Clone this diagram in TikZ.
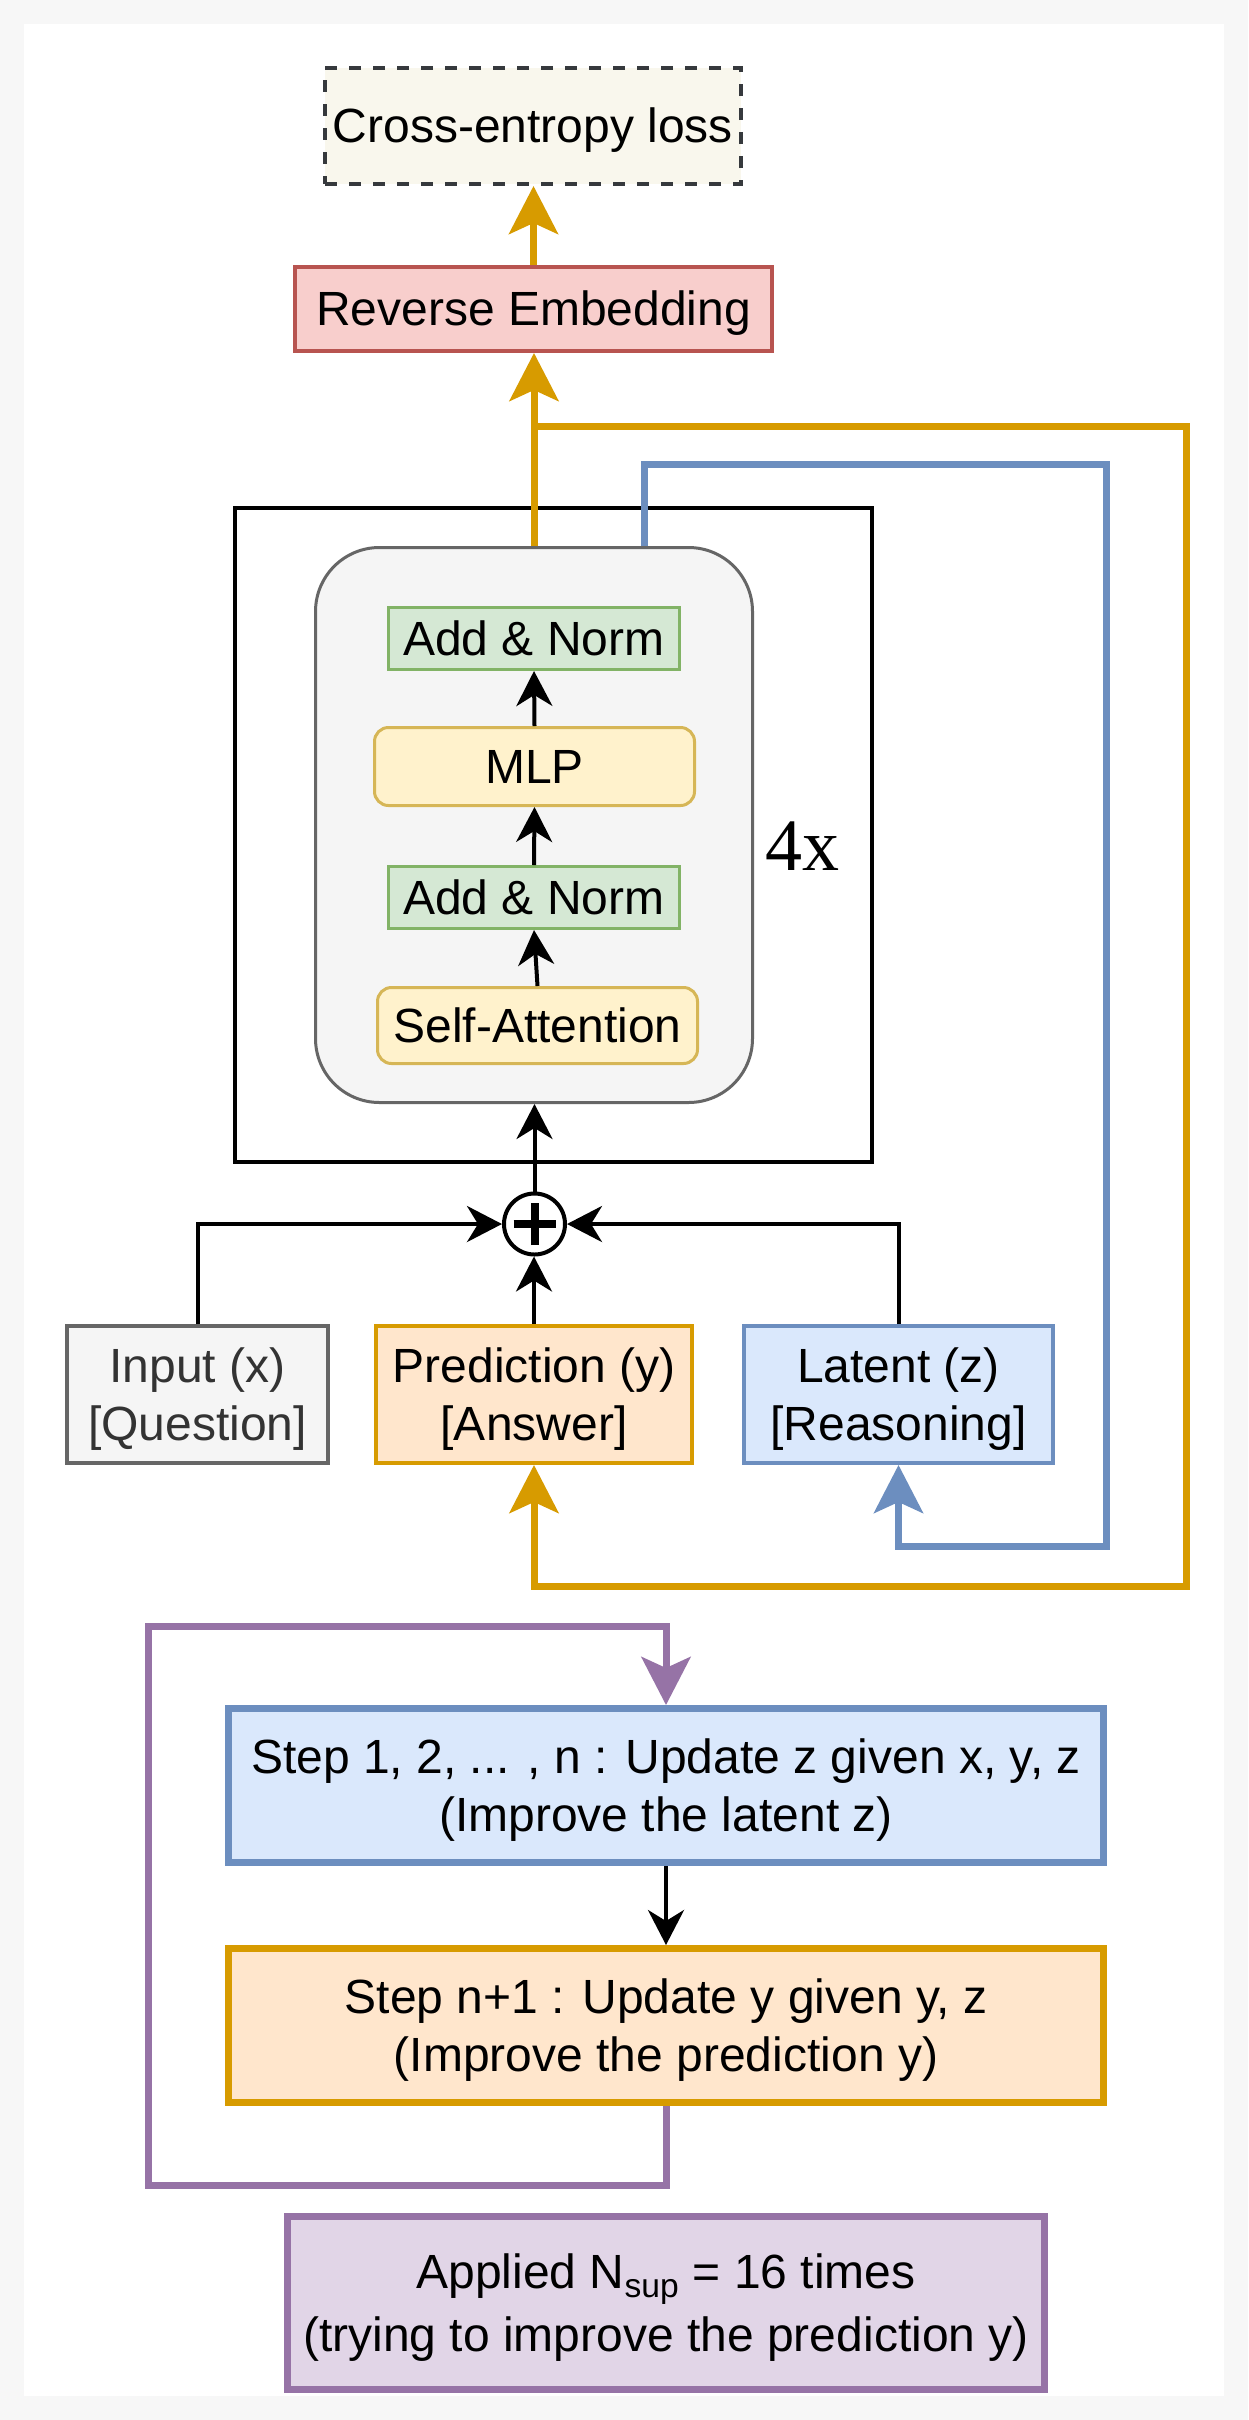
\documentclass[tikz,border=0pt]{standalone}
\usepackage{fontspec}
\setmainfont{Liberation Sans}
\newfontfamily\serifx{Liberation Serif}
\usetikzlibrary{arrows.meta}
\definecolor{bgc}{HTML}{F7F7F7}
\definecolor{cefill}{HTML}{F9F7ED}
\definecolor{cedraw}{HTML}{36393D}
\definecolor{revfill}{HTML}{F8CECC}
\definecolor{revdraw}{HTML}{B85450}
\definecolor{grayf}{HTML}{F5F5F5}
\definecolor{grayd}{HTML}{666666}
\definecolor{grayt}{HTML}{333333}
\definecolor{grnf}{HTML}{D5E8D4}
\definecolor{grnd}{HTML}{82B366}
\definecolor{ylwf}{HTML}{FFF2CC}
\definecolor{ylwd}{HTML}{D6B656}
\definecolor{orgf}{HTML}{FFE6CC}
\definecolor{orgd}{HTML}{D79B00}
\definecolor{bluf}{HTML}{DAE8FC}
\definecolor{blud}{HTML}{6C8EBF}
\definecolor{purf}{HTML}{E1D5E7}
\definecolor{purd}{HTML}{9673A6}
\tikzset{
  box/.style={draw, rectangle, inner sep=0pt, align=center, font=\fontsize{48}{58}\selectfont, text=black},
  oneline/.style={text height=43pt, text depth=10pt},
  twoline/.style={text height=101pt, text depth=10pt},
  bigtip/.style={-{Stealth[length=48pt,width=49pt,inset=11pt]}},
  smalltip/.style={-{Stealth[length=35pt,width=36pt,inset=11pt]}},
  yl/.style={draw=orgd, line width=7pt},
  bl/.style={draw=blud, line width=7pt},
  pu/.style={draw=purd, line width=7pt},
  bk/.style={draw=black, line width=4pt},
}
\begin{document}
\begin{tikzpicture}[x=1pt,y=-1pt]
\useasboundingbox (0,0) rectangle (1248,2420);
\fill[bgc] (0,0) rectangle (1248,2420);
\fill[white] (24,24) rectangle (1224,2396);

% top
\node[box, oneline, draw=cedraw, fill=cefill, line width=4pt, dash pattern=on 12pt off 12pt, minimum width=416pt, minimum height=116pt] (ce) at (533,126) {Cross-entropy loss};
\node[box, oneline, draw=revdraw, fill=revfill, line width=4pt, minimum width=477pt, minimum height=84pt] (rev) at (533.5,309) {Reverse Embedding};

% transformer block
\node[draw=black, line width=4pt, minimum width=637pt, minimum height=654pt, inner sep=0pt] (outer) at (553.5,835) {};
\node[draw=grayd, fill=grayf, line width=3pt, rounded corners=64pt, minimum width=437pt, minimum height=555pt, inner sep=0pt] (blk) at (534,825) {};
\node[box, oneline, draw=grnd, fill=grnf, line width=3pt, minimum width=291pt, minimum height=62pt] (an2) at (534,638.5) {Add \& Norm};
\node[box, oneline, draw=ylwd, fill=ylwf, line width=3pt, rounded corners=14pt, minimum width=320pt, minimum height=78pt] (mlp) at (534.5,766.5) {MLP};
\node[box, oneline, draw=grnd, fill=grnf, line width=3pt, minimum width=291pt, minimum height=62pt] (an1) at (534,897.5) {Add \& Norm};
\node[box, oneline, draw=ylwd, fill=ylwf, line width=3pt, rounded corners=14pt, minimum width=320pt, minimum height=76pt] (sa) at (537.5,1025.5) {Self-Attention};
\node[font=\serifx\fontsize{74}{80}\selectfont, inner sep=0pt] (rep) at (802,846) {4x};

% plus
\node[circle, draw=black, fill=white, line width=4pt, minimum size=61pt, inner sep=0pt] (plus) at (534.5,1224) {};
\draw[line width=8pt] ([xshift=-21pt]plus.center) -- ([xshift=21pt]plus.center);
\draw[line width=8pt] ([yshift=-21pt]plus.center) -- ([yshift=21pt]plus.center);

% inputs
\node[box, twoline, draw=grayd, fill=grayf, text=grayt, line width=4pt, minimum width=261pt, minimum height=137pt] (inp) at (197.5,1394.5) {Input (x)\\{}[Question]};
\node[box, twoline, draw=orgd, fill=orgf, line width=4pt, minimum width=316pt, minimum height=137pt] (pred) at (534,1394.5) {Prediction (y)\\{}[Answer]};
\node[box, twoline, draw=blud, fill=bluf, line width=4pt, minimum width=309pt, minimum height=137pt] (lat) at (898.5,1394.5) {Latent (z)\\{}[Reasoning]};

% steps
\node[box, twoline, draw=blud, fill=bluf, line width=7pt, minimum width=875pt, minimum height=154pt] (s1) at (666,1785.5) {Step 1, 2, ... , n : Update z given x, y, z\\(Improve the latent z)};
\node[box, twoline, draw=orgd, fill=orgf, line width=7pt, minimum width=875pt, minimum height=154pt] (s2) at (666,2025.5) {Step n+1 : Update y given y, z\\(Improve the prediction y)};
\node[box, draw=purd, fill=purf, line width=7pt, minimum width=757pt, minimum height=173pt, font=\fontsize{48}{63}\selectfont, text height=106pt, text depth=10pt] (app) at (666,2303) {Applied N\textsubscript{sup} = 16 times\\(trying to improve the prediction y)};

% connectors
\coordinate (yb) at (534,426);
\coordinate (bx) at (644,0);
\draw[yl, bigtip] (rev.north) -- (rev.north |- ce.south);
\draw[yl, bigtip] (blk.north) -- (blk.north |- rev.south);
\draw[yl, bigtip] (yb) -- (1186,426) -- (1186,1586) -| (pred.south);
\draw[bl, bigtip] (blk.north -| bx) -- (644,464) -- (1106,464) -- (1106,1546) -| (lat.south);

\draw[bk, smalltip] (mlp.north) -- (an2.south);
\draw[bk, smalltip] (an1.north) -- (mlp.south);
\draw[bk, smalltip] (sa.north) -- (an1.south);
\draw[bk, smalltip] (plus.north) -- (plus.north |- blk.south);
\draw[bk, smalltip] (pred.north) -- (pred.north |- plus.south);
\draw[bk, smalltip] (inp.north) |- (plus.west);
\draw[bk, smalltip] (lat.north) |- (plus.east);
\draw[bk, smalltip] (s1.south) -- (s2.north);
\draw[pu, bigtip] (s2.south) -- (666,2185) -- (148,2185) -- (148,1626) -| (s1.north);
\end{tikzpicture}
\end{document}
